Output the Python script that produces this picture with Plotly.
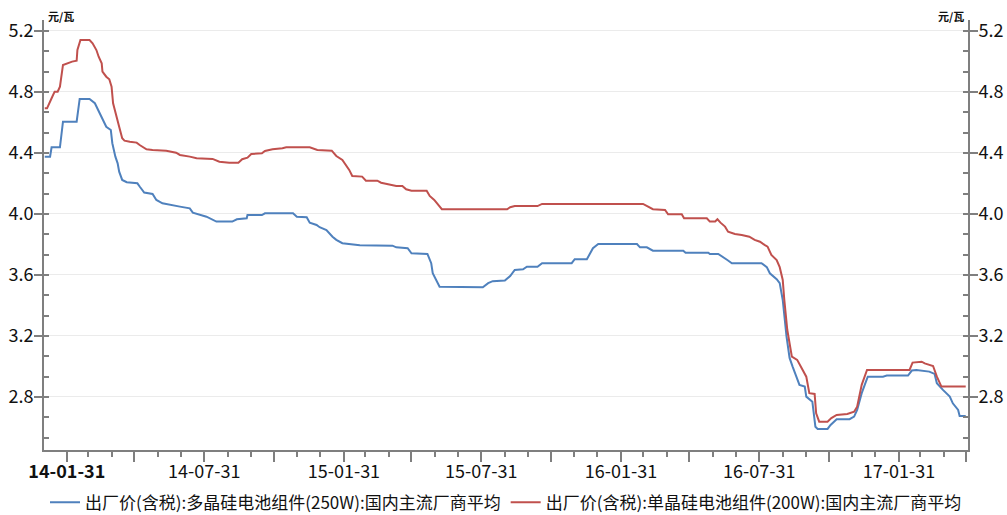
import plotly.graph_objects as go

# ---- data ----
poly_dates = ["2014-01-02","2014-01-09","2014-01-11","2014-01-22","2014-01-26","2014-02-13","2014-02-17","2014-03-02",
"2014-03-09","2014-03-15","2014-03-19","2014-03-24","2014-03-30","2014-04-01","2014-04-05","2014-04-08","2014-04-10",
"2014-04-14","2014-04-20","2014-05-04","2014-05-07","2014-05-13","2014-05-24","2014-05-29","2014-06-02","2014-06-06",
"2014-06-29","2014-07-12","2014-07-16","2014-07-25","2014-08-03","2014-08-16","2014-09-06","2014-09-12","2014-09-25",
"2014-09-26","2014-10-15","2014-10-19","2014-11-25","2014-11-30","2014-12-13","2014-12-17","2014-12-26","2014-12-30",
"2015-01-08","2015-01-16","2015-01-21","2015-01-29","2015-02-21","2015-04-05","2015-04-10","2015-04-25","2015-04-30",
"2015-05-21","2015-05-26","2015-05-28","2015-06-01","2015-06-06","2015-08-02","2015-08-09","2015-08-15","2015-08-31",
"2015-09-07","2015-09-13","2015-09-24","2015-09-29","2015-10-13","2015-10-19","2015-11-27","2015-12-01","2015-12-17",
"2015-12-25","2016-01-01","2016-02-21","2016-02-25","2016-03-05","2016-03-13","2016-04-22","2016-04-25","2016-05-25",
"2016-05-27","2016-06-07","2016-06-19","2016-06-25","2016-08-03","2016-08-10","2016-08-14","2016-08-23","2016-08-27",
"2016-08-31","2016-09-05","2016-09-06","2016-09-09","2016-09-13","2016-09-16","2016-09-22","2016-09-29","2016-10-01",
"2016-10-09","2016-10-13","2016-10-16","2016-10-29","2016-11-02","2016-11-07","2016-11-10","2016-11-27","2016-12-03",
"2016-12-07","2016-12-13","2016-12-17","2016-12-21","2017-01-10","2017-01-15","2017-02-12","2017-02-17","2017-02-23",
"2017-03-12","2017-03-19","2017-03-22","2017-03-30","2017-04-08","2017-04-12","2017-04-19","2017-04-21","2017-04-29"]
poly_values = [4.375,4.375,4.437,4.437,4.605,4.605,4.754,4.754,
4.726,4.66,4.616,4.572,4.551,4.464,4.376,4.332,4.277,
4.223,4.208,4.201,4.18,4.14,4.131,4.092,4.081,4.07,
4.048,4.037,4.009,3.993,3.982,3.95,3.95,3.965,3.972,
3.993,3.993,4.004,4.004,3.982,3.978,3.943,3.928,3.913,
3.895,3.851,3.83,3.808,3.795,3.792,3.781,3.775,3.742,
3.738,3.677,3.611,3.567,3.523,3.519,3.546,3.559,3.563,
3.593,3.633,3.637,3.654,3.654,3.677,3.677,3.703,3.703,
3.775,3.803,3.803,3.781,3.781,3.759,3.759,3.746,3.746,
3.738,3.738,3.698,3.677,3.677,3.651,3.611,3.572,3.546,
3.436,3.195,3.154,3.056,2.999,2.955,2.879,2.868,2.802,
2.769,2.605,2.59,2.59,2.616,2.638,2.654,2.654,2.671,
2.715,2.825,2.879,2.933,2.933,2.94,2.94,2.973,2.977,
2.966,2.951,2.89,2.846,2.802,2.758,2.715,2.675,2.675]

mono_dates = ["2014-01-02","2014-01-05","2014-01-11","2014-01-15","2014-01-19","2014-01-22","2014-01-26","2014-01-31",
"2014-02-07","2014-02-13","2014-02-14","2014-02-18","2014-03-02","2014-03-06","2014-03-11","2014-03-14","2014-03-18",
"2014-03-19","2014-03-24","2014-03-28","2014-03-31","2014-04-02","2014-04-06","2014-04-10","2014-04-14","2014-04-17",
"2014-04-24","2014-05-03","2014-05-07","2014-05-16","2014-05-24","2014-06-11","2014-06-24","2014-06-29","2014-07-12",
"2014-07-21","2014-08-11","2014-08-20","2014-09-02","2014-09-14","2014-09-19","2014-09-26","2014-10-01","2014-10-15",
"2014-10-19","2014-10-29","2014-11-11","2014-11-16","2014-12-17","2014-12-27","2015-01-15","2015-01-21","2015-01-29",
"2015-02-07","2015-02-11","2015-02-24","2015-03-01","2015-03-16","2015-03-21","2015-03-28","2015-04-10","2015-04-18",
"2015-04-23","2015-04-30","2015-05-20","2015-05-24","2015-05-30","2015-06-09","2015-09-03","2015-09-07","2015-09-13",
"2015-10-13","2015-10-19","2016-02-29","2016-03-09","2016-03-13","2016-03-29","2016-04-02","2016-04-20","2016-04-23",
"2016-05-23","2016-05-27","2016-06-03","2016-06-06","2016-06-10","2016-06-16","2016-06-20","2016-06-29","2016-07-08",
"2016-07-18","2016-07-25","2016-08-01","2016-08-07","2016-08-11","2016-08-16","2016-08-23","2016-08-27","2016-08-31",
"2016-09-02","2016-09-06","2016-09-12","2016-09-19","2016-09-25","2016-10-01","2016-10-05","2016-10-12","2016-10-14",
"2016-10-18","2016-10-29","2016-11-03","2016-11-10","2016-11-24","2016-12-03","2016-12-07","2016-12-13","2016-12-20",
"2017-02-14","2017-02-18","2017-03-02","2017-03-06","2017-03-17","2017-03-22","2017-03-28","2017-04-29"]
mono_values = [4.693,4.693,4.759,4.802,4.802,4.835,4.977,4.988,
4.999,5.005,5.075,5.141,5.141,5.119,5.075,5.031,4.988,
4.933,4.9,4.883,4.835,4.726,4.638,4.572,4.496,4.481,
4.474,4.468,4.452,4.424,4.42,4.415,4.402,4.387,4.376,
4.365,4.361,4.343,4.336,4.336,4.359,4.369,4.393,4.398,
4.413,4.424,4.431,4.437,4.437,4.42,4.415,4.38,4.354,
4.289,4.249,4.245,4.218,4.218,4.205,4.197,4.184,4.184,
4.162,4.153,4.153,4.118,4.092,4.031,4.031,4.044,4.052,
4.052,4.066,4.066,4.044,4.031,4.026,3.998,3.998,3.972,
3.972,3.95,3.95,3.965,3.943,3.917,3.884,3.869,3.862,
3.851,3.83,3.818,3.797,3.786,3.731,3.698,3.651,3.567,
3.44,3.239,3.064,3.043,2.988,2.933,2.825,2.82,2.693,
2.638,2.638,2.661,2.682,2.688,2.703,2.736,2.879,2.977,
2.977,3.025,3.031,3.02,3.003,2.933,2.868,2.868]

poly_name = "出厂价(含税):多晶硅电池组件(250W):国内主流厂商平均"
mono_name = "出厂价(含税):单晶硅电池组件(200W):国内主流厂商平均"
unit_label = "元/瓦"

quarter_ticks = ["2014-01-31","2014-04-30","2014-07-31","2014-10-31","2015-01-31","2015-04-30","2015-07-31",
"2015-10-31","2016-01-31","2016-04-30","2016-07-31","2016-10-31","2017-01-31","2017-04-30"]
quarter_text = ["<b>14-01-31</b>","","14-07-31","","15-01-31","","15-07-31","","16-01-31","","16-07-31","","17-01-31",""]
month_ticks = ["2014-02-28","2014-03-31","2014-05-31","2014-06-30","2014-08-31","2014-09-30","2014-11-30","2014-12-31",
"2015-02-28","2015-03-31","2015-05-31","2015-06-30","2015-08-31","2015-09-30","2015-11-30","2015-12-31",
"2016-02-29","2016-03-31","2016-05-31","2016-06-30","2016-08-31","2016-09-30","2016-11-30","2016-12-31",
"2017-02-28","2017-03-31"]

y_ticks = [2.8, 3.2, 3.6, 4.0, 4.4, 4.8, 5.2]
y_text = ["2.8", "3.2", "3.6", "4.0", "4.4", "4.8", "5.2"]
y_range = [2.452, 5.272]
x_range = ["2014-01-01", "2017-05-02"]

BLUE = "#4f81bd"
RED = "#c0504d"
AXIS = "#7f7f7f"
FONT = "Noto Sans CJK SC"

fig = go.Figure()
fig.add_trace(go.Scatter(x=poly_dates, y=poly_values, mode="lines", name=poly_name,
                         line=dict(color=BLUE, width=2), yaxis="y"))
fig.add_trace(go.Scatter(x=mono_dates, y=mono_values, mode="lines", name=mono_name,
                         line=dict(color=RED, width=2), yaxis="y2"))

yaxis_common = dict(range=y_range, tickmode="array", tickvals=y_ticks, ticktext=y_text, automargin=False,
                    ticks="outside", ticklen=8, tickwidth=2, tickcolor=AXIS, ticklabelstandoff=-3,
                    showline=True, linecolor=AXIS, linewidth=2, zeroline=False,
                    tickfont=dict(family=FONT, size=18, color="#111111"),
                    minor=dict(tick0=2.8, dtick=0.4/3, ticks="inside", ticklen=5,
                               tickwidth=2, tickcolor=AXIS, showgrid=False))

fig.update_layout(
    width=1007, height=515,
    margin=dict(l=44, r=39, t=20, b=65),
    paper_bgcolor="white", plot_bgcolor="white",
    font=dict(family=FONT, size=15, color="#111111"),
    xaxis=dict(type="date", range=x_range, tickmode="array", tickvals=quarter_ticks, ticktext=quarter_text,
               automargin=False, ticklabelstandoff=-6,
               ticks="outside", ticklen=10, tickwidth=2, tickcolor=AXIS,
               showline=True, linecolor=AXIS, linewidth=2, showgrid=False, zeroline=False,
               tickfont=dict(family=FONT, size=18, color="#111111"),
               minor=dict(tickmode="array", tickvals=month_ticks, ticks="outside", ticklen=5,
                          tickwidth=2, tickcolor=AXIS, showgrid=False)),
    yaxis=dict(side="left", showgrid=True, gridcolor="#ebebeb", gridwidth=1, **yaxis_common),
    yaxis2=dict(side="right", overlaying="y", showgrid=False, **yaxis_common),
    legend=dict(orientation="h", x=0.5, xanchor="center", yref="container", y=0.024, yanchor="middle",
                font=dict(family=FONT, size=17, color="#111111"), itemwidth=30,
                bgcolor="rgba(0,0,0,0)"),
    showlegend=True,
)

fig.add_annotation(text="<b>" + unit_label + "</b>", xref="paper", yref="paper", x=0.002, y=1.0,
                   xanchor="left", yanchor="bottom", showarrow=False,
                   font=dict(family=FONT, size=11, color="#111111"), yshift=-6)
fig.add_annotation(text="<b>" + unit_label + "</b>", xref="paper", yref="paper", x=0.998, y=1.0,
                   xanchor="right", yanchor="bottom", showarrow=False,
                   font=dict(family=FONT, size=11, color="#111111"), yshift=-6)

fig.write_html("out.html", config={"displayModeBar": False},
               post_script="document.body.style.margin='0';document.body.style.overflow='hidden';")
